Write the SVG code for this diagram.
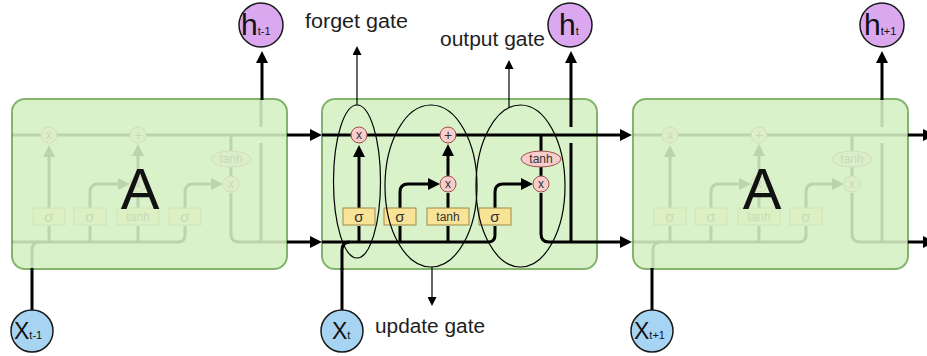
<svg xmlns="http://www.w3.org/2000/svg" xmlns:xlink="http://www.w3.org/1999/xlink" width="927" height="356" viewBox="0 0 927 356">
  <style>
    .cell { fill: #d9f2ca; stroke: #84b46c; stroke-width: 2; }
    .w { fill: none; stroke: #000; stroke-width: 3; }
    .thin { fill: none; stroke: #000; stroke-width: 1.2; }
    .op { fill: #f8cecc; stroke: #a0504c; stroke-width: 1; }
    .gate { fill: #f9e397; stroke: #9c8a48; stroke-width: 1; }
    .hnode { fill: #dba8ef; stroke: #1a1a1a; stroke-width: 1.5; }
    .xnode { fill: #a6d4f2; stroke: #1a1a1a; stroke-width: 1.5; }
    .sym { font-family: "Liberation Sans", Arial, sans-serif; fill: #333; text-anchor: middle; }
    .lbl { font-family: "Liberation Sans", Arial, sans-serif; font-size: 20px; fill: #1e1e1e; }
    .big { font-family: "Liberation Sans", Arial, sans-serif; font-size: 58px; fill: #111; text-anchor: middle; }
    .nm { font-family: "Liberation Sans", Arial, sans-serif; fill: #111; }
  </style>
  <defs>
    <marker id="ah" viewBox="0 0 12 12" refX="2" refY="6" markerUnits="userSpaceOnUse" markerWidth="12" markerHeight="12" orient="auto">
      <path d="M0,0 L12,6 L0,12 z" fill="#000"/>
    </marker>
    <marker id="ahs" viewBox="0 0 10 10" refX="1" refY="5" markerUnits="userSpaceOnUse" markerWidth="10" markerHeight="9" orient="auto">
      <path d="M0,0 L10,5 L0,10 z" fill="#000"/>
    </marker>
    <!-- inner wiring of one LSTM cell, x relative to the cell's left edge -->
    <g id="core">
      <path class="w" d="M0,135 H275"/>
      <path class="w" d="M0,242 H166 Q173,242 173,235 V226"/>
      <path class="w" d="M20,270 V250 Q20,242 28,242"/>
      <!-- forget branch -->
      <path class="w" d="M37,242 V226"/>
      <path class="w" d="M37,208 V155" marker-end="url(#ah)"/>
      <!-- input / update branch -->
      <path class="w" d="M78,242 V226"/>
      <path class="w" d="M78,208 V192 Q78,184 86,184 H108" marker-end="url(#ah)"/>
      <path class="w" d="M126,242 V226"/>
      <path class="w" d="M126,208 V193"/>
      <path class="w" d="M126,176 V154" marker-end="url(#ah)"/>
      <!-- output branch -->
      <path class="w" d="M173,208 V192 Q173,184 181,184 H201" marker-end="url(#ah)"/>
      <path class="w" d="M219,135 V152"/>
      <path class="w" d="M219,166 V176"/>
      <path class="w" d="M219,193 V234 Q219,242 227,242 H275"/>
      <path class="w" d="M249,242 V143"/>
      <path class="w" d="M249,127 V99"/>
      <!-- gates -->
      <rect class="gate" x="21" y="208" width="32" height="17"/>
      <text class="sym" x="37" y="222" font-size="15">σ</text>
      <rect class="gate" x="62" y="208" width="32" height="17"/>
      <text class="sym" x="78" y="222" font-size="15">σ</text>
      <rect class="gate" x="105" y="208" width="42" height="17"/>
      <text class="sym" x="126" y="221" font-size="12">tanh</text>
      <rect class="gate" x="157" y="208" width="32" height="17"/>
      <text class="sym" x="173" y="222" font-size="15">σ</text>
      <!-- pointwise ops -->
      <circle class="op" cx="37" cy="135" r="8"/>
      <text class="sym" x="37" y="139" font-size="12">x</text>
      <circle class="op" cx="126" cy="135" r="8"/>
      <text class="sym" x="126" y="140" font-size="14">+</text>
      <circle class="op" cx="126" cy="184" r="8"/>
      <text class="sym" x="126" y="188" font-size="12">x</text>
      <ellipse class="op" cx="219" cy="159" rx="20" ry="8"/>
      <text class="sym" x="219" y="163" font-size="12">tanh</text>
      <circle class="op" cx="219" cy="184" r="8"/>
      <text class="sym" x="219" y="188" font-size="12">x</text>
    </g>
  </defs>

  <!-- previous time step (faded) -->
  <g id="cell-prev">
    <rect class="cell" x="12" y="99" width="275" height="170" rx="13"/>
    <use xlink:href="#core" href="#core" transform="translate(12,0)" opacity="0.12"/>
    <text class="big" x="140" y="209">A</text>
  </g>

  <!-- current time step -->
  <g id="cell-curr">
    <rect class="cell" x="322" y="99" width="275" height="170" rx="13"/>
    <use xlink:href="#core" href="#core" transform="translate(322,0)"/>
    <ellipse class="thin" cx="357" cy="181.5" rx="23.5" ry="76.5"/>
    <ellipse class="thin" cx="431" cy="186" rx="46" ry="81"/>
    <ellipse class="thin" cx="520.5" cy="186" rx="44.5" ry="81"/>
  </g>

  <!-- next time step (faded) -->
  <g id="cell-next">
    <rect class="cell" x="633" y="99" width="275" height="170" rx="13"/>
    <use xlink:href="#core" href="#core" transform="translate(633,0)" opacity="0.12"/>
    <text class="big" x="762" y="209">A</text>
  </g>

  <!-- connectors between cells, inputs and outputs -->
  <g id="connectors">
    <path class="w" d="M287,135 H312" marker-end="url(#ah)"/>
    <path class="w" d="M287,242 H312" marker-end="url(#ah)"/>
    <path class="w" d="M597,135 H622" marker-end="url(#ah)"/>
    <path class="w" d="M597,242 H622" marker-end="url(#ah)"/>
    <path class="w" d="M908,135 H925" marker-end="url(#ah)"/>
    <path class="w" d="M908,242 H925" marker-end="url(#ah)"/>
    <path class="w" d="M262,100 V61" marker-end="url(#ah)"/>
    <path class="w" d="M571,100 V61" marker-end="url(#ah)"/>
    <path class="w" d="M882,100 V61" marker-end="url(#ah)"/>
    <path class="w" d="M32,310 V268"/>
    <path class="w" d="M342,310 V268"/>
    <path class="w" d="M652,310 V268"/>
    <path class="thin" d="M357,105 V54" marker-end="url(#ahs)"/>
    <path class="thin" d="M509,108 V68" marker-end="url(#ahs)"/>
    <path class="thin" d="M432,267 V298" marker-end="url(#ahs)"/>
  </g>

  <!-- gate labels -->
  <g id="labels">
    <text class="lbl" x="305" y="28" textLength="103" lengthAdjust="spacingAndGlyphs">forget gate</text>
    <text class="lbl" x="440" y="46" textLength="105" lengthAdjust="spacingAndGlyphs">output gate</text>
    <text class="lbl" x="375" y="333" textLength="110" lengthAdjust="spacingAndGlyphs">update gate</text>
  </g>

  <!-- hidden outputs -->
  <g id="h-prev">
    <circle class="hnode" cx="261" cy="25" r="22"/>
    <text class="nm" x="241" y="35" font-size="30">h<tspan font-size="11">t-1</tspan></text>
  </g>
  <g id="h-curr">
    <circle class="hnode" cx="570" cy="25" r="22"/>
    <text class="nm" x="559" y="35" font-size="30">h<tspan font-size="11">t</tspan></text>
  </g>
  <g id="h-next">
    <circle class="hnode" cx="882" cy="25" r="22"/>
    <text class="nm" x="864" y="35" font-size="30">h<tspan font-size="11">t+1</tspan></text>
  </g>

  <!-- inputs -->
  <g id="x-prev">
    <circle class="xnode" cx="32" cy="331" r="21"/>
    <text class="nm" x="14" y="339" font-size="23">X<tspan font-size="11">t-1</tspan></text>
  </g>
  <g id="x-curr">
    <circle class="xnode" cx="342" cy="331" r="21"/>
    <text class="nm" x="332" y="339" font-size="23">X<tspan font-size="11">t</tspan></text>
  </g>
  <g id="x-next">
    <circle class="xnode" cx="652" cy="331" r="21"/>
    <text class="nm" x="634" y="339" font-size="23">X<tspan font-size="11">t+1</tspan></text>
  </g>
</svg>
